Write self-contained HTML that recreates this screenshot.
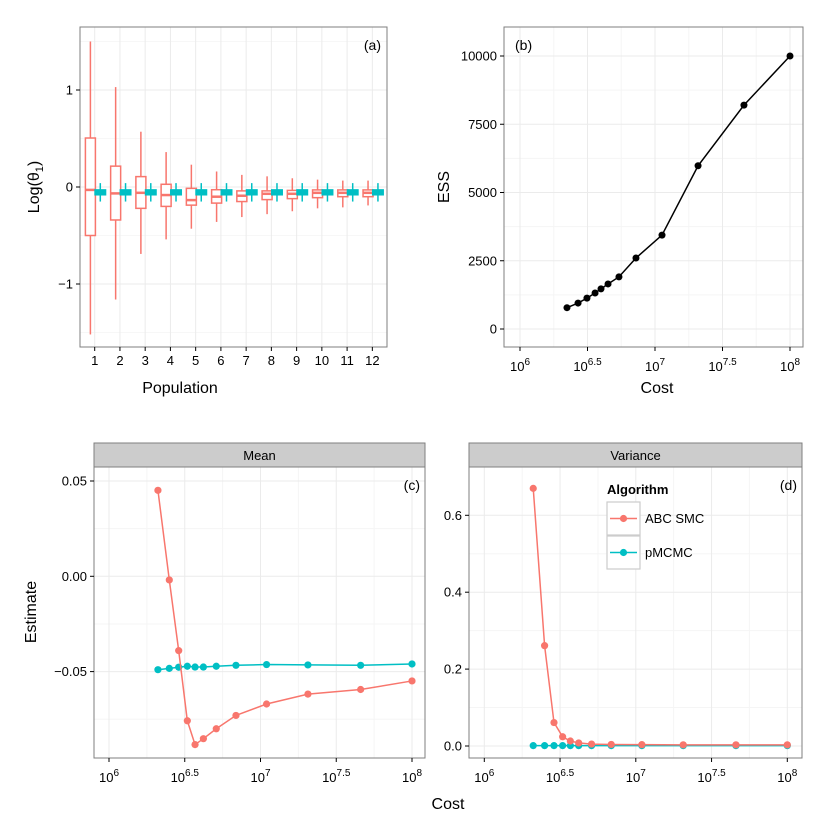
<!DOCTYPE html>
<html><head><meta charset="utf-8"><style>
body{margin:0;background:#fff;}
svg{display:block;font-family:"Liberation Sans",sans-serif;}
</style></head><body>
<svg id="chart" width="830" height="830" viewBox="0 0 830 830" xmlns="http://www.w3.org/2000/svg"></svg>
<script>
// ---- data ----
const populations = [1,2,3,4,5,6,7,8,9,10,11,12];
const abcWhiskerHigh = [1.50,1.03,0.57,0.36,0.23,0.16,0.125,0.11,0.09,0.076,0.066,0.066];
const abcQ3 = [0.505,0.215,0.107,0.028,-0.014,-0.028,-0.04,-0.04,-0.035,-0.03,-0.03,-0.03];
const abcMedian = [-0.03,-0.066,-0.06,-0.083,-0.135,-0.10,-0.09,-0.07,-0.07,-0.06,-0.06,-0.06];
const abcQ1 = [-0.50,-0.34,-0.22,-0.20,-0.187,-0.166,-0.15,-0.13,-0.12,-0.11,-0.10,-0.10];
const abcWhiskerLow = [-1.52,-1.16,-0.69,-0.54,-0.43,-0.36,-0.31,-0.28,-0.25,-0.22,-0.21,-0.19];
const pmcmcWhiskerHigh = [0.04,0.04,0.04,0.04,0.04,0.04,0.04,0.04,0.04,0.04,0.04,0.04];
const pmcmcQ3 = [-0.035,-0.035,-0.035,-0.035,-0.035,-0.035,-0.035,-0.035,-0.035,-0.035,-0.035,-0.035];
const pmcmcMedian = [-0.055,-0.055,-0.055,-0.055,-0.055,-0.055,-0.055,-0.055,-0.055,-0.055,-0.055,-0.055];
const pmcmcQ1 = [-0.075,-0.075,-0.075,-0.075,-0.075,-0.075,-0.075,-0.075,-0.075,-0.075,-0.075,-0.075];
const pmcmcWhiskerLow = [-0.15,-0.15,-0.15,-0.15,-0.15,-0.15,-0.15,-0.15,-0.15,-0.15,-0.15,-0.15];
const aYTicks = [-1,0,1];
const aYTickLabels = ["\u22121","0","1"];

const essLogCost = [6.348,6.430,6.496,6.556,6.600,6.652,6.733,6.859,7.052,7.319,7.659,8.0];
const essValues = [780,950,1130,1320,1470,1650,1910,2600,3440,5980,8200,10000];
const bYTicks = [0,2500,5000,7500,10000];
const logCostTicks = [6,6.5,7,7.5,8];
const logCostTickLabels = ["6","6.5","7","7.5","8"];

const estLogCost = [6.323,6.398,6.460,6.517,6.568,6.623,6.708,6.838,7.040,7.313,7.661,8.0];
const meanAbc = [0.0451,-0.0019,-0.039,-0.0758,-0.0883,-0.0852,-0.080,-0.073,-0.067,-0.0618,-0.0594,-0.0549];
const meanPmcmc = [-0.049,-0.0483,-0.0477,-0.0472,-0.0476,-0.0476,-0.0472,-0.0467,-0.0463,-0.0465,-0.0467,-0.046];
const varAbc = [0.670,0.261,0.061,0.024,0.013,0.008,0.005,0.004,0.0035,0.003,0.003,0.003];
const varPmcmc = [0.001,0.001,0.001,0.001,0.001,0.001,0.001,0.001,0.001,0.001,0.001,0.001];
const cYTicks = [-0.05,0,0.05];
const cYTickLabels = ["\u22120.05","0.00","0.05"];
const dYTicks = [0,0.2,0.4,0.6];
const dYTickLabels = ["0.0","0.2","0.4","0.6"];

const RED="#F8766D", CYAN="#00BFC4", GRID="#ebebeb", MINOR="#f5f5f5";
const svg=document.getElementById('chart');
const NS="http://www.w3.org/2000/svg";
function mk(tag,attrs,parent){const e=document.createElementNS(NS,tag);for(const k in attrs)e.setAttribute(k,attrs[k]);(parent||svg).appendChild(e);return e;}
function txt(s,x,y,attrs,parent){const t=mk('text',Object.assign({x:x,y:y,'font-size':13,fill:'#000'},attrs||{}),parent);t.textContent=s;return t;}
function powLabel(exp,x,y,g){const t=mk('text',{x:x,y:y,'font-size':13,'text-anchor':'middle',fill:'#000'},g);
  const a=mk('tspan',{},t);a.textContent='10';const b=mk('tspan',{'font-size':10,dy:-6},t);b.textContent=exp;return t;}

// ---- Panel (a) ----
const A={l:80,r:387,t:27,b:347};
const ay=v=>187-v*97;
const ax=i=>94.7+(i-1)*25.24;
const gA=mk('g',{});


[-1.5,-0.5,0.5,1.5].forEach(v=>mk('line',{x1:A.l,x2:A.r,y1:ay(v),y2:ay(v),stroke:MINOR,'stroke-width':0.8},gA));
aYTicks.forEach(v=>mk('line',{x1:A.l,x2:A.r,y1:ay(v),y2:ay(v),stroke:GRID,'stroke-width':1},gA));
populations.forEach(p=>mk('line',{x1:ax(p),x2:ax(p),y1:A.t,y2:A.b,stroke:GRID,'stroke-width':1},gA));
function drawBox(i,dx,w,hi,q3,md,q1,lo,col,name,fill,sw){
  const g=mk('g',{},gA);
  
  
  const cx=ax(populations[i])+dx;
  mk('line',{x1:cx,x2:cx,y1:ay(hi[i]),y2:ay(q3[i]),stroke:col,'stroke-width':1.5},g);
  mk('line',{x1:cx,x2:cx,y1:ay(q1[i]),y2:ay(lo[i]),stroke:col,'stroke-width':1.5},g);
  mk('rect',{x:cx-w/2,y:ay(q3[i]),width:w,height:Math.max(0.5,ay(q1[i])-ay(q3[i])),fill:fill,stroke:col,'stroke-width':sw},g);
  mk('line',{x1:cx-w/2,x2:cx+w/2,y1:ay(md[i]),y2:ay(md[i]),stroke:col,'stroke-width':2.5},g);
}
populations.forEach((p,i)=>{
  drawBox(i,-4.3,10,abcWhiskerHigh,abcQ3,abcMedian,abcQ1,abcWhiskerLow,RED,'abc-box-'+p,'#fff',1.5);
  drawBox(i,5.6,9.5,pmcmcWhiskerHigh,pmcmcQ3,pmcmcMedian,pmcmcQ1,pmcmcWhiskerLow,CYAN,'pmcmc-box-'+p,CYAN,2.5);
});
mk('rect',{x:A.l,y:A.t,width:A.r-A.l,height:A.b-A.t,fill:'none',stroke:'#7f7f7f','stroke-width':1},gA);
aYTicks.forEach((v,i)=>{mk('line',{x1:A.l-4,x2:A.l,y1:ay(v),y2:ay(v),stroke:'#000'},gA);
  txt(aYTickLabels[i],A.l-7,ay(v)+4.5,{'text-anchor':'end'},gA);});
populations.forEach(p=>{mk('line',{x1:ax(p),x2:ax(p),y1:A.b,y2:A.b+4,stroke:'#000'},gA);
  txt(String(p),ax(p),A.b+18,{'text-anchor':'middle'},gA);});
txt('(a)',381,50,{'text-anchor':'end','font-size':14},gA);
const ayt=mk('text',{x:0,y:0,'font-size':16,'text-anchor':'middle',transform:'translate(39,187) rotate(-90)'},gA);


ayt.innerHTML='Log(θ<tspan font-size="11" dy="4">1</tspan><tspan dy="-4">)</tspan>';
const axt=txt('Population',180,393,{'text-anchor':'middle','font-size':16},gA);



// ---- Panel (b) ----
const B={l:504,r:803,t:27,b:347};
const bx=l=>520+(l-6)*135;
const by=v=>329-v*0.0273;
const gB=mk('g',{});


[1250,3750,6250,8750].forEach(v=>mk('line',{x1:B.l,x2:B.r,y1:by(v),y2:by(v),stroke:MINOR},gB));
[6.25,6.75,7.25,7.75].forEach(v=>mk('line',{x1:bx(v),x2:bx(v),y1:B.t,y2:B.b,stroke:MINOR},gB));
bYTicks.forEach(v=>mk('line',{x1:B.l,x2:B.r,y1:by(v),y2:by(v),stroke:GRID},gB));
logCostTicks.forEach(v=>mk('line',{x1:bx(v),x2:bx(v),y1:B.t,y2:B.b,stroke:GRID},gB));
const essLine=mk('polyline',{points:essLogCost.map((c,i)=>bx(c)+','+by(essValues[i])).join(' '),fill:'none',stroke:'#000','stroke-width':1.5},gB);


essLogCost.forEach((c,i)=>{const d=mk('circle',{cx:bx(c),cy:by(essValues[i]),r:3.5,fill:'#000'},gB);
  
  });
mk('rect',{x:B.l,y:B.t,width:B.r-B.l,height:B.b-B.t,fill:'none',stroke:'#7f7f7f'},gB);
bYTicks.forEach(v=>{mk('line',{x1:B.l-4,x2:B.l,y1:by(v),y2:by(v),stroke:'#000'},gB);
  txt(String(v),B.l-7,by(v)+4.5,{'text-anchor':'end'},gB);});
logCostTicks.forEach((v,i)=>{mk('line',{x1:bx(v),x2:bx(v),y1:B.b,y2:B.b+4,stroke:'#000'},gB);
  powLabel(logCostTickLabels[i],bx(v),B.b+24,gB);});
txt('(b)',515,50,{'font-size':14},gB);
const byt=txt('ESS',0,0,{'font-size':16,'text-anchor':'middle',transform:'translate(449,187) rotate(-90)'},gB);


const bxt=txt('Cost',657,393,{'font-size':16,'text-anchor':'middle'},gB);



// ---- Panels (c),(d) ----
function facet(P,title,letter,yfn,yt,ytl,minorY,abc,pm,name){
  const g=mk('g',{});
  
  
  const xf=l=>P.x0+(l-6)*151.5;
  mk('rect',{x:P.l,y:443,width:P.r-P.l,height:24,fill:'#cccccc',stroke:'#7f7f7f'},g);
  txt(title,(P.l+P.r)/2,460,{'text-anchor':'middle'},g);
  minorY.forEach(v=>mk('line',{x1:P.l,x2:P.r,y1:yfn(v),y2:yfn(v),stroke:MINOR},g));
  [6.25,6.75,7.25,7.75].forEach(v=>mk('line',{x1:xf(v),x2:xf(v),y1:467,y2:P.b,stroke:MINOR},g));
  yt.forEach(v=>mk('line',{x1:P.l,x2:P.r,y1:yfn(v),y2:yfn(v),stroke:GRID},g));
  logCostTicks.forEach(v=>mk('line',{x1:xf(v),x2:xf(v),y1:467,y2:P.b,stroke:GRID},g));
  [[pm,CYAN,'pmcmc'],[abc,RED,'abc-smc']].forEach(([arr,col,nm])=>{
    const l=mk('polyline',{points:estLogCost.map((c,i)=>xf(c)+','+yfn(arr[i])).join(' '),fill:'none',stroke:col,'stroke-width':1.5},g);
    
    
    estLogCost.forEach((c,i)=>{const d=mk('circle',{cx:xf(c),cy:yfn(arr[i]),r:3.6,fill:col},g);
      
      });
  });
  mk('rect',{x:P.l,y:467,width:P.r-P.l,height:P.b-467,fill:'none',stroke:'#7f7f7f'},g);
  yt.forEach((v,i)=>{mk('line',{x1:P.l-4,x2:P.l,y1:yfn(v),y2:yfn(v),stroke:'#000'},g);
    txt(ytl[i],P.l-7,yfn(v)+4.5,{'text-anchor':'end'},g);});
  logCostTicks.forEach((v,i)=>{mk('line',{x1:xf(v),x2:xf(v),y1:P.b,y2:P.b+4,stroke:'#000'},g);
    powLabel(logCostTickLabels[i],xf(v),P.b+24,g);});
  txt(letter,P.r-5,490,{'text-anchor':'end','font-size':14},g);
  return g;
}
facet({l:94,r:425,b:758,x0:109},'Mean','(c)',v=>576.3-v*1906,cYTicks,cYTickLabels,[-0.075,-0.025,0.025],meanAbc,meanPmcmc,'panel-c');
const gD=facet({l:469,r:802,b:758,x0:484.3},'Variance','(d)',v=>746-v*384.5,dYTicks,dYTickLabels,[0.1,0.3,0.5],varAbc,varPmcmc,'panel-d');
const ct=txt('Estimate',0,0,{'font-size':16,'text-anchor':'middle',transform:'translate(36,612) rotate(-90)'});


const cx=txt('Cost',448,809,{'font-size':16,'text-anchor':'middle'});



// legend
const lg=mk('g',{},gD);


txt('Algorithm',607,494,{'font-weight':'bold','font-size':13},lg);
[['ABC SMC',RED,502],['pMCMC',CYAN,536]].forEach(([lab,col,y])=>{
  const e=mk('g',{},lg);
  
  
  mk('rect',{x:607,y:y,width:33,height:33,fill:'#fff',stroke:'#cccccc','stroke-width':1.2},e);
  mk('line',{x1:610,x2:637,y1:y+16.5,y2:y+16.5,stroke:col,'stroke-width':1.5},e);
  mk('circle',{cx:623.5,cy:y+16.5,r:3.6,fill:col},e);
  txt(lab,645,y+21,{'font-size':13},e);
});
</script>
</body></html>
